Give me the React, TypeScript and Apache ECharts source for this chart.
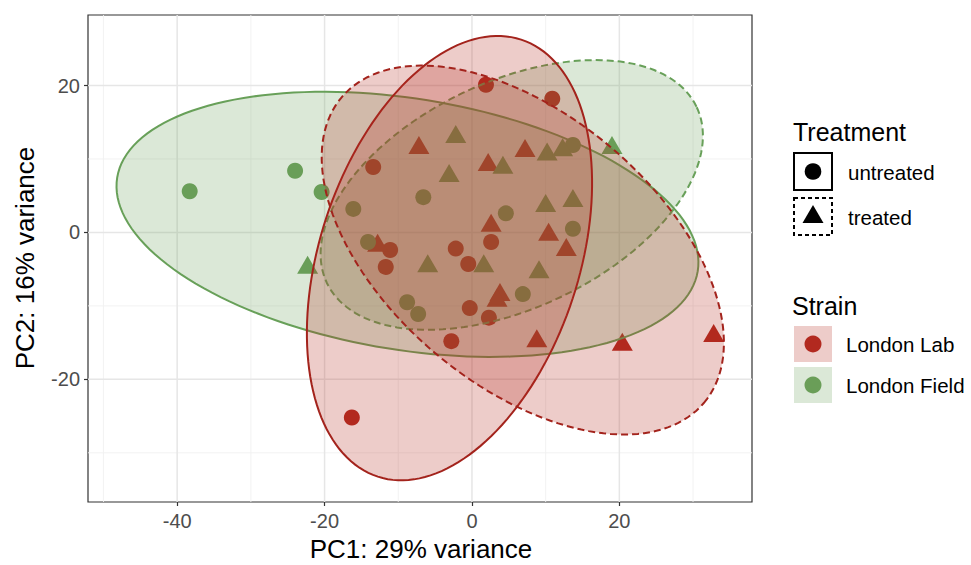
import React, { useEffect, useRef } from "react";
import * as echarts from "echarts";

// Axis ranges and tick values
const xRange = [-52.1, 38.0];
const yRange = [-36.7, 29.6];
const xMajor = [-40, -20, 0, 20];
const xMinor = [-50, -30, -10, 10, 30];
const yMajor = [-20, 0, 20];
const yMinor = [-30, -10, 10];

// Points: London Lab untreated
const labUntreatedX = [1.9, 10.9, -13.4, -2.2, -11.1, -11.7, -0.5, -0.3, 2.3, 2.6, -2.8, -16.3];
const labUntreatedY = [20.1, 18.2, 8.9, -2.2, -2.4, -4.7, -4.3, -10.3, -11.6, -1.3, -14.8, -25.2];
// London Lab treated
const labTreatedX = [-7.2, 7.2, 2.2, 2.6, 10.4, 12.8, 3.8, 3.4, 8.8, 20.4, 32.8, -12.8];
const labTreatedY = [11.9, 11.5, 9.6, 1.3, 0.1, -2.0, -8.1, -8.9, -14.4, -14.9, -13.7, -1.4];
// London Field untreated
const fieldUntreatedX = [-38.3, -24.0, -20.4, -16.1, -6.6, -14.1, -8.8, -7.3, 4.6, 13.7, 6.9, 13.7];
const fieldUntreatedY = [5.6, 8.4, 5.5, 3.2, 4.8, -1.3, -9.5, -11.1, 2.6, 0.5, -8.4, 11.9];
// London Field treated
const fieldTreatedX = [-2.2, -3.1, 4.2, 10.2, 12.3, 19.0, 10.0, 13.7, 1.6, 9.1, -6.0, -22.3];
const fieldTreatedY = [13.4, 8.1, 9.2, 11.0, 11.6, 11.9, 4.0, 4.7, -4.2, -5.0, -4.2, -4.4];

// Ellipses: [field untreated, field treated, lab untreated, lab treated]
const ellipseNames = ["Field untreated", "Field treated", "Lab untreated", "Lab treated"];
const ellipseCX = [-8.75, 5.4, -3.05, 6.9];
const ellipseCY = [1.1, 5.1, -3.5, -2.4];
const ellipseA = [39.9, 27.8, 31.3, 32.2];
const ellipseB = [17.1, 15.4, 17.6, 18.4];
const ellipseAngle = [-9.2, 25.6, 71.9, -40.3];

const RED = "#b2291f";
const GREEN = "#6a9e58";
const RED_EDGE = "#a3231c";
const GREEN_EDGE = "#68a059";
const RED_FILL = "rgba(178,41,31,0.24)";
const GREEN_FILL = "rgba(106,158,88,0.24)";
const FONT = "Liberation Sans, Arial, Helvetica, sans-serif";

const zip = (xs: number[], ys: number[]) => xs.map((x, i) => [x, ys[i]]);

export default function App() {
  const ref = useRef<HTMLDivElement>(null);
  useEffect(() => {
    if (!ref.current) return;
    const chart = echarts.init(ref.current, null, { renderer: "svg" });

    const gridSeries = (vals: number[], dir: "x" | "y", major: boolean) => ({
      type: "custom",
      silent: true,
      z: 0,
      data: vals.map((v) => (dir === "x" ? [v, 0] : [0, v])),
      renderItem: (params: any, api: any) => {
        const cs = params.coordSys;
        const p = api.coord([api.value(0), api.value(1)]);
        const shape =
          dir === "x"
            ? { x1: p[0], y1: cs.y, x2: p[0], y2: cs.y + cs.height }
            : { x1: cs.x, y1: p[1], x2: cs.x + cs.width, y2: p[1] };
        return {
          type: "line",
          shape,
          style: { stroke: major ? "#e6e6e6" : "#f0f0f0", lineWidth: major ? 1.5 : 0.9 },
        };
      },
    });

    const ellipseData = ellipseNames.map((_, i) => [
      ellipseCX[i],
      ellipseCY[i],
      ellipseA[i],
      ellipseB[i],
      ellipseAngle[i],
      i,
    ]);

    const option: any = {
      animation: false,
      backgroundColor: "#ffffff",
      grid: {
        left: 88,
        right: 219,
        top: 15,
        bottom: 63,
        show: true,
        borderColor: "#333333",
        borderWidth: 1.2,
        backgroundColor: "#ffffff",
      },
      xAxis: {
        type: "value",
        min: xRange[0],
        max: xRange[1],
        position: "bottom",
        splitLine: { show: false },
        axisLine: { show: false, onZero: false },
        axisTick: {
          show: true,
          customValues: xMajor,
          length: 4,
          lineStyle: { color: "#333333", width: 1.2 },
        },
        axisLabel: {
          customValues: xMajor,
          color: "#4d4d4d",
          fontSize: 20,
          fontFamily: FONT,
          margin: 9,
        },
      },
      yAxis: {
        type: "value",
        min: yRange[0],
        max: yRange[1],
        position: "left",
        splitLine: { show: false },
        axisLine: { show: false, onZero: false },
        axisTick: {
          show: true,
          customValues: yMajor,
          length: 4,
          lineStyle: { color: "#333333", width: 1.2 },
        },
        axisLabel: {
          customValues: yMajor,
          color: "#4d4d4d",
          fontSize: 20,
          fontFamily: FONT,
          margin: 8,
        },
      },
      series: [
        gridSeries(xMinor, "x", false),
        gridSeries(yMinor, "y", false),
        gridSeries(xMajor, "x", true),
        gridSeries(yMajor, "y", true),
        {
          type: "scatter",
          name: "Lab untreated",
          z: 2,
          silent: true,
          symbol: "circle",
          symbolSize: 16,
          itemStyle: { color: RED, opacity: 1 },
          data: zip(labUntreatedX, labUntreatedY),
        },
        {
          type: "scatter",
          name: "Lab treated",
          z: 2,
          silent: true,
          symbol: "triangle",
          symbolSize: [21, 18],
          itemStyle: { color: RED, opacity: 1 },
          data: zip(labTreatedX, labTreatedY),
        },
        {
          type: "scatter",
          name: "Field untreated",
          z: 2,
          silent: true,
          symbol: "circle",
          symbolSize: 16,
          itemStyle: { color: GREEN, opacity: 1 },
          data: zip(fieldUntreatedX, fieldUntreatedY),
        },
        {
          type: "scatter",
          name: "Field treated",
          z: 2,
          silent: true,
          symbol: "triangle",
          symbolSize: [21, 18],
          itemStyle: { color: GREEN, opacity: 1 },
          data: zip(fieldTreatedX, fieldTreatedY),
        },
        {
          type: "custom",
          name: "ellipses",
          z: 3,
          silent: true,
          encode: { x: 0, y: 1 },
          data: ellipseData,
          renderItem: (params: any, api: any) => {
            const cx = api.value(0);
            const cy = api.value(1);
            const a = api.value(2);
            const b = api.value(3);
            const ang = (api.value(4) * Math.PI) / 180;
            const idx = api.value(5);
            const pts: number[][] = [];
            const n = 160;
            for (let k = 0; k < n; k++) {
              const t = (2 * Math.PI * k) / n;
              const dx = a * Math.cos(t);
              const dy = b * Math.sin(t);
              const x = cx + dx * Math.cos(ang) - dy * Math.sin(ang);
              const y = cy + dx * Math.sin(ang) + dy * Math.cos(ang);
              pts.push(api.coord([x, y]));
            }
            const isRed = idx >= 2;
            const dashed = idx === 1 || idx === 3;
            return {
              type: "polygon",
              shape: { points: pts },
              style: {
                fill: isRed ? RED_FILL : GREEN_FILL,
                stroke: isRed ? RED_EDGE : GREEN_EDGE,
                lineWidth: 2,
                lineDash: dashed ? [7, 4] : null,
              },
            };
          },
        },
      ],
      graphic: [
        {
          type: "text",
          x: 421,
          y: 549,
          style: {
            text: "PC1: 29% variance",
            fontSize: 26,
            fontFamily: FONT,
            fill: "#000000",
            align: "center",
            verticalAlign: "middle",
          },
        },
        {
          type: "text",
          x: 25,
          y: 258,
          rotation: Math.PI / 2,
          style: {
            text: "PC2: 16% variance",
            fontSize: 26,
            fontFamily: FONT,
            fill: "#000000",
            align: "center",
            verticalAlign: "middle",
          },
        },
        // Treatment legend
        {
          type: "text",
          x: 793,
          y: 132,
          style: { text: "Treatment", fontSize: 25, fontFamily: FONT, fill: "#000", verticalAlign: "middle" },
        },
        {
          type: "rect",
          shape: { x: 794, y: 153, width: 38, height: 37 },
          style: { fill: "#ffffff", stroke: "#000000", lineWidth: 2 },
        },
        { type: "circle", shape: { cx: 813, cy: 171.5, r: 8.3 }, style: { fill: "#000000" } },
        {
          type: "text",
          x: 848,
          y: 172,
          style: { text: "untreated", fontSize: 20.5, fontFamily: FONT, fill: "#000", verticalAlign: "middle" },
        },
        {
          type: "rect",
          shape: { x: 794, y: 198, width: 38, height: 37 },
          style: { fill: "#ffffff", stroke: "#000000", lineWidth: 2, lineDash: [4, 3] },
        },
        {
          type: "polygon",
          shape: { points: [[802.5, 223], [823.5, 223], [813, 205]] },
          style: { fill: "#000000" },
        },
        {
          type: "text",
          x: 848,
          y: 217,
          style: { text: "treated", fontSize: 20.5, fontFamily: FONT, fill: "#000", verticalAlign: "middle" },
        },
        // Strain legend
        {
          type: "text",
          x: 792,
          y: 306,
          style: { text: "Strain", fontSize: 25, fontFamily: FONT, fill: "#000", verticalAlign: "middle" },
        },
        {
          type: "rect",
          shape: { x: 794, y: 326, width: 38, height: 36 },
          style: { fill: RED_FILL },
        },
        { type: "circle", shape: { cx: 813, cy: 344, r: 8.5 }, style: { fill: RED } },
        {
          type: "text",
          x: 846,
          y: 344,
          style: { text: "London Lab", fontSize: 20.5, fontFamily: FONT, fill: "#000", verticalAlign: "middle" },
        },
        {
          type: "rect",
          shape: { x: 794, y: 367, width: 38, height: 36 },
          style: { fill: GREEN_FILL },
        },
        { type: "circle", shape: { cx: 813, cy: 385, r: 8.5 }, style: { fill: GREEN } },
        {
          type: "text",
          x: 846,
          y: 385,
          style: { text: "London Field", fontSize: 20.5, fontFamily: FONT, fill: "#000", verticalAlign: "middle" },
        },
      ],
    };
    chart.setOption(option);
    return () => chart.dispose();
  }, []);
  return (
    <div
      ref={ref}
      style={{ position: "fixed", left: 0, top: 0, width: 971, height: 565, background: "#fff" }}
    />
  );
}
